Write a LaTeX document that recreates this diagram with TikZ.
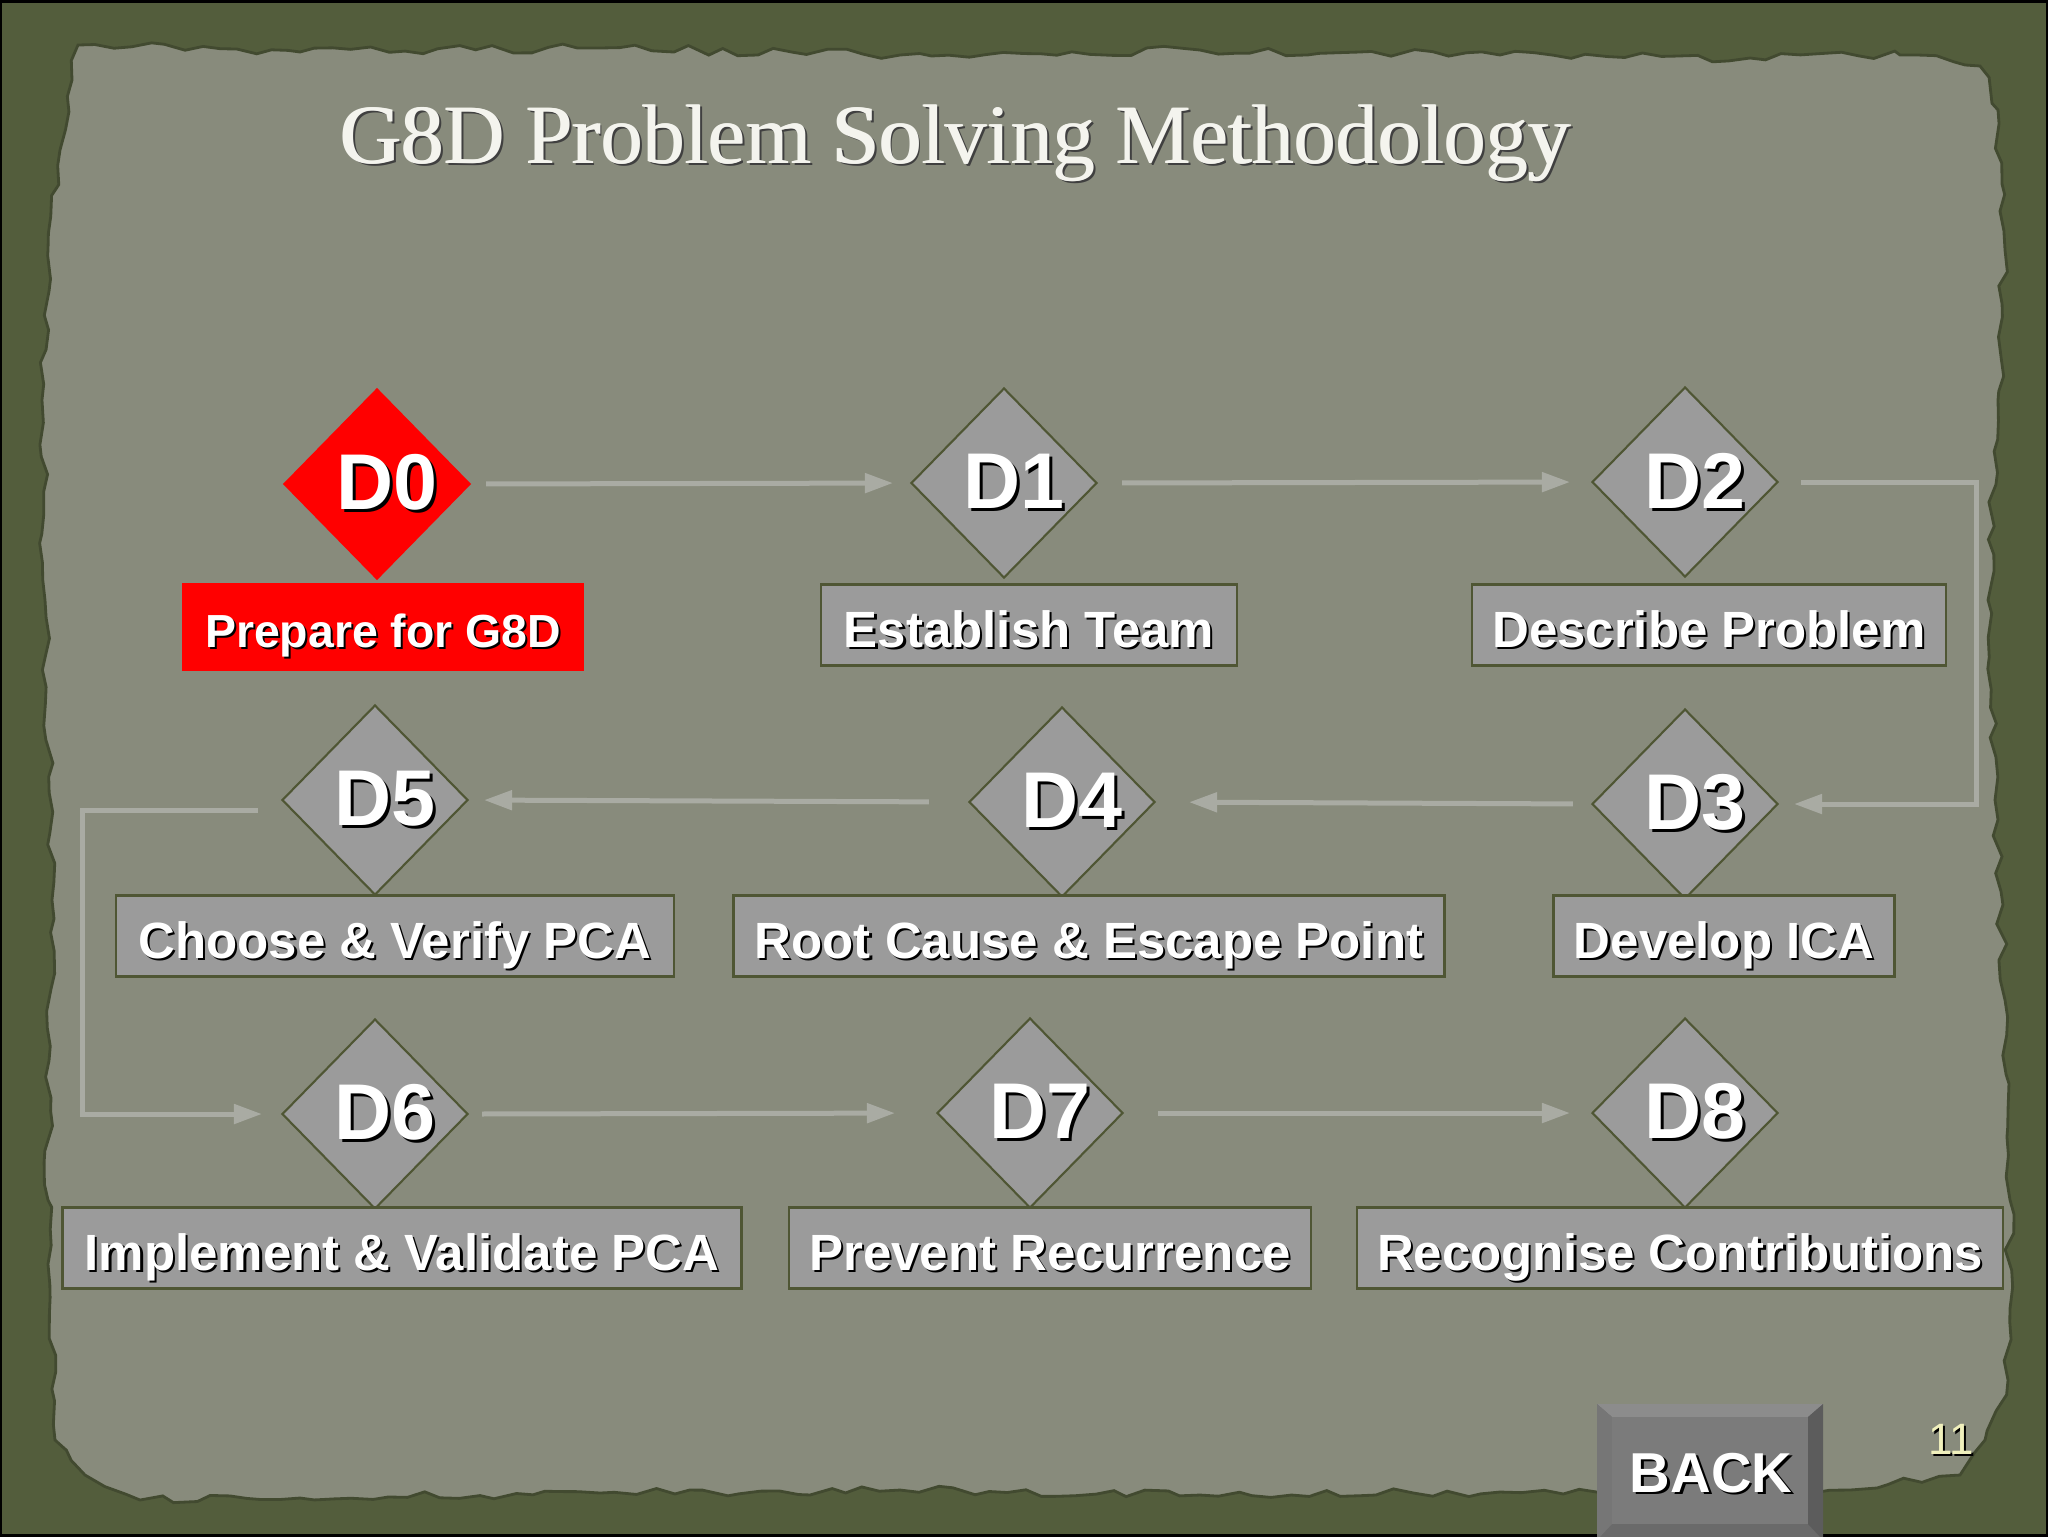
\documentclass[tikz,border=0pt]{standalone}
\usepackage{fontspec}
\setmainfont{Liberation Sans}
\newfontfamily\titlefont{Liberation Serif}
\newfontfamily\numfont{Liberation Sans}
\usetikzlibrary{shapes.geometric,arrows.meta,decorations.pathmorphing}
\definecolor{outerc}{HTML}{535D3C}
\definecolor{paperc}{HTML}{888B7C}
\definecolor{boxgray}{HTML}{9B9B9B}
\definecolor{boxline}{HTML}{4F5634}
\definecolor{flowgray}{HTML}{A9ABA3}
\definecolor{pagenum}{HTML}{F0F0BC}
\definecolor{titlec}{HTML}{F4F4EE}
\definecolor{btnbase}{HTML}{6A6A6A}
\definecolor{btntop}{HTML}{8C8C8C}
\definecolor{btnleft}{HTML}{767676}
\definecolor{btnright}{HTML}{5C5C5C}
\definecolor{btnface}{HTML}{7B7B7B}
\newcommand\shtxt[2][0.8pt]{\leavevmode\rlap{\kern#1\raisebox{-#1}{\color{black}#2}}#2}
\newcommand\boldtitle[1]{\leavevmode\rlap{\kern0.9pt\raisebox{-0.7pt}{\color{black!75}#1}}\rlap{\kern0.35pt#1}#1}
\newcommand\dtxt[1]{\hspace{2mm}\shtxt{#1}}
\pgfmathsetseed{7}
\begin{document}
\begin{tikzpicture}[x=0.1mm,y=-0.1mm,
 dstep/.style={diamond, aspect=1, inner sep=0pt, minimum width=18.6mm, minimum height=19mm,
   fill=boxgray, draw=boxline, line width=0.6pt, text=white, font=\fontsize{22.5}{24}\bfseries},
 dred/.style={dstep, fill=red, draw=red},
 lbl/.style={rectangle, inner sep=0pt, minimum height=8.1mm, fill=boxgray, draw=boxline,
   line width=0.6pt, text=white, text height=12.6pt, text depth=0pt, font=\fontsize{14.5}{16}\bfseries},
 lred/.style={lbl, fill=red, draw=red, minimum height=8.6mm, text height=11.8pt, font=\fontsize{13.2}{15}\bfseries},
 flow/.style={draw=flowgray, line width=0.5mm, -{Triangle[length=2.8mm,width=1.9mm]}}
]
\useasboundingbox (0,0) rectangle (2048,1536);
% background
\fill[outerc] (0,0) rectangle (2048,1536);
\fill[paperc, draw=outerc!80!black, line width=0.8pt, decorate, decoration={random steps, segment length=5pt, amplitude=1.3pt}]
 (78,45) -- (300,52) -- (600,48) -- (900,55) -- (1200,50) -- (1500,55) -- (1750,58) -- (1900,55)
 -- (1980,66) -- (1998,110) -- (2005,250) -- (1998,400) -- (1988,600) -- (1995,800) -- (2005,1000)
 -- (2010,1200) -- (2008,1380) -- (1985,1440) -- (1960,1475) -- (1850,1490) -- (1700,1486)
 -- (1500,1492) -- (1200,1495) -- (900,1490) -- (600,1493) -- (300,1498) -- (140,1500)
 -- (85,1475) -- (55,1440) -- (48,1200) -- (52,900) -- (45,600) -- (42,400) -- (48,250)
 -- (60,150) -- (72,80) -- cycle;
\draw[black, line width=0.5mm] (0,0) rectangle (2048,1536);

% title
\node[anchor=base, text=titlec, font=\titlefont\fontsize{24}{28}\selectfont] (title) at (955,163)
 {\boldtitle{G8D Problem Solving Methodology}};

% steps
\node[dred]  (D0) at (377,484)  {\dtxt{D0}};
\node[dstep] (D1) at (1004,483) {\dtxt{D1}};
\node[dstep] (D2) at (1685,482) {\dtxt{D2}};
\node[dstep] (D3) at (1685,804) {\dtxt{D3}};
\node[dstep] (D4) at (1062,802) {\dtxt{D4}};
\node[dstep] (D5) at (375,800)  {\dtxt{D5}};
\node[dstep] (D6) at (375,1114) {\dtxt{D6}};
\node[dstep] (D7) at (1030,1113) {\dtxt{D7}};
\node[dstep] (D8) at (1685,1113) {\dtxt{D8}};

\node[lred, minimum width=40mm]  (L0) at (383,627)  {\shtxt[0.6pt]{Prepare for G8D}};
\node[lbl, minimum width=41.6mm] (L1) at (1029,625) {\shtxt[0.6pt]{Establish Team}};
\node[lbl, minimum width=47.4mm] (L2) at (1709,625) {\shtxt[0.6pt]{Describe Problem}};
\node[lbl, minimum width=34.1mm] (L3) at (1724,936) {\shtxt[0.6pt]{Develop ICA}};
\node[lbl, minimum width=71.1mm] (L4) at (1089,936) {\shtxt[0.6pt]{Root Cause \& Escape Point}};
\node[lbl, minimum width=55.8mm] (L5) at (395,936)  {\shtxt[0.6pt]{Choose \& Verify PCA}};
\node[lbl, minimum width=67.9mm] (L6) at (402,1248) {\shtxt[0.6pt]{Implement \& Validate PCA}};
\node[lbl, minimum width=52.2mm] (L7) at (1050,1248) {\shtxt[0.6pt]{Prevent Recurrence}};
\node[lbl, minimum width=64.6mm] (L8) at (1680,1248) {\shtxt[0.6pt]{Recognise Contributions}};

% connectors
\draw[flow, shorten <=1.5mm, shorten >=1.7mm] (D0.east) -- (D1.west);
\draw[flow, shorten <=2.4mm, shorten >=2.1mm] (D1.east) -- (D2.west);
\coordinate (R23) at (1976,640);
\draw[flow, shorten <=2.2mm, shorten >=1.5mm] (D2.east) -| (R23) |- (D3.east);
\draw[flow, shorten <=1.8mm, shorten >=3.3mm] (D3.west) -- (D4.east);
\draw[flow, shorten <=3.9mm, shorten >=1.5mm] (D4.west) -- (D5.east);
\coordinate (L56) at (82,960);
\draw[flow, shorten <=2.3mm, shorten >=1.9mm] ([yshift=-1mm]D5.west) -| (L56) |- (D6.west);
\draw[flow, shorten <=1.3mm, shorten >=4.1mm] (D6.east) -- (D7.west);
\draw[flow, shorten <=3.4mm, shorten >=2.1mm] (D7.east) -- (D8.west);

% back button
\fill[btnbase] (1597,1404) rectangle (1823,1540);
\fill[btntop] (1597,1404) -- (1823,1404) -- (1808,1417) -- (1612,1417) -- cycle;
\fill[btnleft] (1597,1404) -- (1612,1417) -- (1612,1524) -- (1597,1540) -- cycle;
\fill[btnright] (1823,1404) -- (1823,1540) -- (1808,1524) -- (1808,1417) -- cycle;
\fill[btnface] (1612,1417) rectangle (1808,1524);
\node[anchor=base, text=white, font=\fontsize{16}{18}\bfseries] (back) at (1711,1492) {\shtxt{BACK}};

% page number
\node[anchor=base, text=pagenum, font=\numfont\fontsize{12.5}{14}\selectfont] (pnum) at (1951,1454) {\shtxt[0.6pt]{11}};
\end{tikzpicture}
\end{document}
